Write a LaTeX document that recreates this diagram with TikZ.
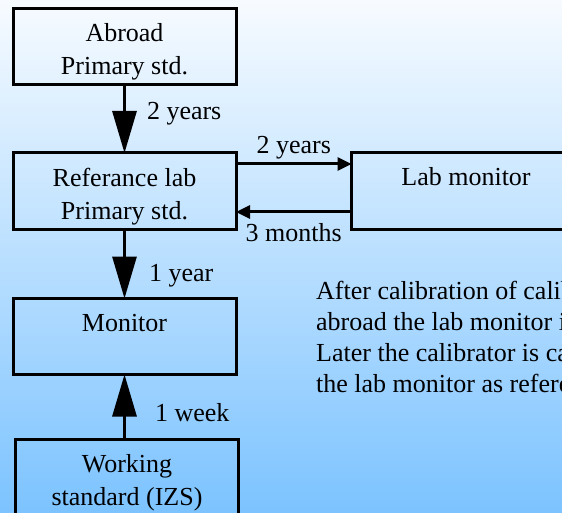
\documentclass[tikz,border=0pt]{standalone}
\usepackage{fontspec}
\setmainfont{LiberationSerif}[Extension=.ttf, UprightFont=*-Regular, BoldFont=*-Bold, ItalicFont=*-Italic, BoldItalicFont=*-BoldItalic]
\usetikzlibrary{arrows.meta}
\definecolor{bgtop}{HTML}{F7FBFF}
\definecolor{bgbot}{HTML}{7CC3FF}
\newcommand\mytstrut[1]{\rule{0pt}{#1}}
\begin{document}
\begin{tikzpicture}[x=1pt,y=-1pt,
  every node/.style={font=\fontsize{26}{33}\selectfont},
  stdbox/.style={draw, line width=3pt, rectangle, outer sep=0pt, inner sep=0pt,
    minimum width=223pt, minimum height=76pt, align=center},
  bigarrow/.style={line width=3pt, -{Triangle[length=42pt,width=24pt]}},
  smallarrow/.style={line width=3pt, -{Triangle[length=14pt,width=13pt]}},
  lbl/.style={inner sep=0pt}]
\useasboundingbox (0,0) rectangle (562,513);
\clip (0,0) rectangle (562,513);
\shade[top color=bgtop, bottom color=bgbot] (0,0) rectangle (562,513);

\node[stdbox] (abroad) at (124.5,46.2) {\mytstrut{30pt}Abroad\\Primary std.};
\node[stdbox] (ref) at (124.5,191) {\mytstrut{30pt}Referance lab\\Primary std.};
\node[stdbox, minimum width=229pt] (labmon) at (466,191) {\mytstrut{22pt}Lab monitor\\\mbox{}};
\node[stdbox] (mon) at (124.5,336.5) {\mytstrut{22pt}Monitor\\\mbox{}};
\node[stdbox] (work) at (127,477) {\mytstrut{30pt}Working\\standard (IZS)};

\draw[bigarrow] (abroad) -- (ref)
  node[lbl, midway, anchor=base west, xshift=21pt, yshift=-1pt] {2 years};
\draw[smallarrow] ([yshift=-11pt]ref.north east) -- ([yshift=-11pt]labmon.north west)
  node[lbl, midway, anchor=base, yshift=10pt] {2 years};
\draw[smallarrow] ([yshift=17pt]labmon.south west) -- ([yshift=17pt]ref.south east)
  node[lbl, midway, anchor=base, yshift=-29pt] {3 months};
\draw[bigarrow] (ref) -- (mon)
  node[lbl, midway, anchor=base west, xshift=23pt, yshift=-18pt] {1 year};
\draw[bigarrow] (work.north -| mon.south) -- (mon.south)
  node[lbl, midway, anchor=base west, xshift=29pt, yshift=-15pt] {1 week};

\node[lbl, anchor=north west, align=left, font=\fontsize{26}{31}\selectfont] (note) at (316,280.8)
  {After calibration of calibrator\\abroad the lab monitor is calibrated.\\Later the calibrator is calibrated using\\the lab monitor as reference.};
\end{tikzpicture}
\end{document}
